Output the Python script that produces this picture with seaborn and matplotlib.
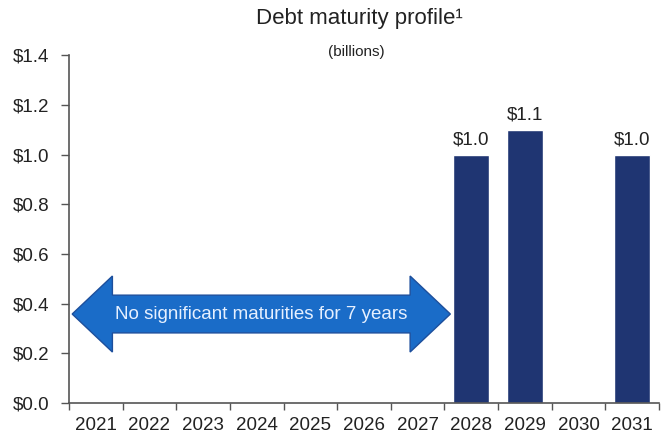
import matplotlib
matplotlib.use("Agg")
import matplotlib.pyplot as plt
from matplotlib.patches import Polygon
from matplotlib.ticker import FixedLocator
import seaborn as sns
import pandas as pd
import numpy as np

# Debt maturities by year, in billions of dollars
years = ["2021", "2022", "2023", "2024", "2025", "2026", "2027",
         "2028", "2029", "2030", "2031"]
maturities = [0.0, 0.0, 0.0, 0.0, 0.0, 0.0, 0.0, 1.0, 1.1, 0.0, 1.0]
y_ticks = [0.0, 0.2, 0.4, 0.6, 0.8, 1.0, 1.2, 1.4]

title = "Debt maturity profile\u00b9"
subtitle = "(billions)"
callout = "No significant maturities for 7 years"

BAR_COLOR = "#1f3572"
ARROW_FACE = "#1a6cc8"
ARROW_EDGE = "#1d4f9c"
TEXT_COLOR = "#222222"
AXIS_COLOR = "#555555"

sns.set_theme(style="white")
plt.rcParams["font.family"] = ["Liberation Sans", "DejaVu Sans"]

df = pd.DataFrame({"year": years, "amount": maturities})

fig = plt.figure(figsize=(6.63, 4.38), dpi=100)
ax = fig.add_axes([0.104, 0.080, 0.890, 0.794])

sns.barplot(data=df, x="year", y="amount", color=BAR_COLOR, width=0.67,
            saturation=1, ax=ax, zorder=2)

ax.set_xlim(-0.5, len(years) - 0.5)
ax.set_ylim(0, 1.4)
ax.set_xlabel("")
ax.set_ylabel("")

# y axis: dollar ticks
ax.set_yticks(y_ticks)
ax.set_yticklabels([f"${v:.1f}" for v in y_ticks], fontsize=13.5, color=TEXT_COLOR)

# x axis: labels centred on categories, tick marks on the boundaries
ax.set_xticks(range(len(years)))
ax.set_xticklabels(years, fontsize=13.5, color=TEXT_COLOR)
ax.xaxis.set_minor_locator(FixedLocator(np.arange(-0.5, len(years), 1.0)))
ax.tick_params(axis="x", which="major", length=0, pad=10)
ax.tick_params(axis="x", which="minor", length=5, width=1, color=AXIS_COLOR,
               direction="out", bottom=True)
ax.tick_params(axis="y", length=6, width=1, color=AXIS_COLOR, direction="out",
               left=True, pad=8)

for side in ("top", "right"):
    ax.spines[side].set_visible(False)
for side in ("left", "bottom"):
    ax.spines[side].set_color(AXIS_COLOR)
    ax.spines[side].set_linewidth(1.2)

# value labels above the non-zero bars
for i, v in enumerate(maturities):
    if v > 0:
        ax.text(i, v + 0.04, f"${v:.1f}", ha="center", va="baseline",
                fontsize=13.5, color=TEXT_COLOR)

# double-headed callout arrow across the years without maturities
arrow_left, arrow_right = -0.44, 6.61
arrow_mid = 0.358
shaft_half, head_half, head_len = 0.076, 0.153, 0.75
pts = [
    (arrow_left, arrow_mid),
    (arrow_left + head_len, arrow_mid + head_half),
    (arrow_left + head_len, arrow_mid + shaft_half),
    (arrow_right - head_len, arrow_mid + shaft_half),
    (arrow_right - head_len, arrow_mid + head_half),
    (arrow_right, arrow_mid),
    (arrow_right - head_len, arrow_mid - head_half),
    (arrow_right - head_len, arrow_mid - shaft_half),
    (arrow_left + head_len, arrow_mid - shaft_half),
    (arrow_left + head_len, arrow_mid - head_half),
]
ax.add_patch(Polygon(pts, closed=True, facecolor=ARROW_FACE,
                     edgecolor=ARROW_EDGE, linewidth=1.0, zorder=3))
ax.text((arrow_left + arrow_right) / 2, arrow_mid, callout, ha="center",
        va="center", fontsize=13.5, color="#e6f0ff", zorder=4)

fig.text(0.542, 0.957, title, ha="center", va="center", fontsize=16,
         color=TEXT_COLOR)
fig.text(0.537, 0.882, subtitle, ha="center", va="center", fontsize=11,
         color=TEXT_COLOR)

fig.savefig("out.png", dpi=100)
